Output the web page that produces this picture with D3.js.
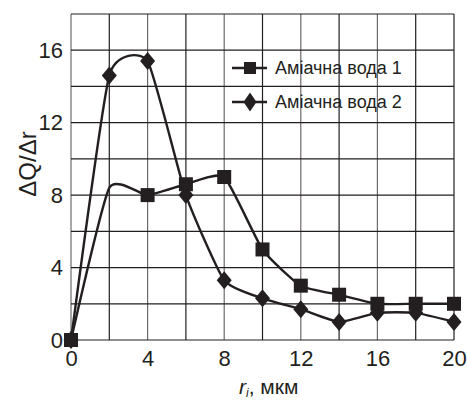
<!DOCTYPE html>
<html>
<head>
<meta charset="utf-8">
<script src="https://cdn.jsdelivr.net/npm/d3@7"></script>
<style>
  body { margin: 0; background: #fff; }
  text { font-family: "Liberation Sans", Arial, sans-serif; fill: #231f20; }
</style>
</head>
<body>
<svg width="467" height="400"></svg>
<script>
// chart values
const xTicks = [0, 4, 8, 12, 16, 20];
const yTicks = [0, 4, 8, 12, 16];
const seriesNames = ['Аміачна вода 1', 'Аміачна вода 2'];
// series 1: the curve passes x = 2 without a marker there
const water1X = [0, 2, 4, 6, 8, 10, 12, 14, 16, 18, 20];
const water1Y = [0, 8.4, 8, 8.6, 9, 5, 3, 2.5, 2, 2, 2];
const water1Marked = [1, 0, 1, 1, 1, 1, 1, 1, 1, 1, 1];
const water2X = [0, 2, 4, 6, 8, 10, 12, 14, 16, 18, 20];
const water2Y = [0, 14.6, 15.4, 8, 3.3, 2.3, 1.7, 1, 1.5, 1.5, 1];

const ink = '#231f20';
const svg = d3.select('svg');
const margin = { top: 14, right: 13, bottom: 60, left: 71 };
const width = +svg.attr('width') - margin.left - margin.right;
const height = +svg.attr('height') - margin.top - margin.bottom;

const g = svg.append('g')
    .attr('transform', 'translate(' + margin.left + ',' + margin.top + ')');

const xScale = d3.scaleLinear().domain([0, 20]).range([0, width]);
const yScale = d3.scaleLinear().domain([0, 18]).range([height, 0]);

// grid: every 2 units
d3.range(0, 21, 2).forEach(function(v) {
    g.append('line')
        .attr('x1', xScale(v)).attr('x2', xScale(v))
        .attr('y1', 0).attr('y2', height)
        .attr('stroke', v % 4 === 0 && v !== 20 ? '#6e6a6b' : ink)
        .attr('stroke-width', 1.2);
});
d3.range(0, 19, 2).forEach(function(v) {
    g.append('line')
        .attr('x1', 0).attr('x2', width)
        .attr('y1', yScale(v)).attr('y2', yScale(v))
        .attr('stroke', ink)
        .attr('stroke-width', 1.2);
});

// axes (labels only)
g.append('g')
    .attr('transform', 'translate(0,' + height + ')')
    .call(d3.axisBottom(xScale).tickValues(xTicks).tickSize(0).tickPadding(10))
    .call(function(a) { a.select('.domain').remove(); })
    .selectAll('text')
    .attr('dy', '0.71em')
    .style('font-size', '22px');

g.append('g')
    .call(d3.axisLeft(yScale).tickValues(yTicks).tickSize(0).tickPadding(8))
    .call(function(a) { a.select('.domain').remove(); })
    .selectAll('text')
    .style('font-size', '22px');

// axis titles
svg.append('text')
    .attr('transform', 'translate(36,164) rotate(-90)')
    .attr('text-anchor', 'middle')
    .style('font-size', '24px')
    .text('ΔQ/Δr');

const xTitle = svg.append('text')
    .attr('x', 239)
    .attr('y', 394)
    .style('font-size', '21px');
xTitle.append('tspan').style('font-style', 'italic').text('r');
xTitle.append('tspan').style('font-style', 'italic').style('font-size', '12px').attr('dy', 3).text('i');
xTitle.append('tspan').attr('dy', -3).text(', мкм');

// curves
const line = d3.line()
    .x(function(d) { return xScale(d[0]); })
    .y(function(d) { return yScale(d[1]); })
    .curve(d3.curveCardinal.tension(0.5));

const data1 = d3.zip(water1X, water1Y, water1Marked);
const data2 = d3.zip(water2X, water2Y);

[data1, data2].forEach(function(data) {
    g.append('path')
        .datum(data)
        .attr('fill', 'none')
        .attr('stroke', ink)
        .attr('stroke-width', 2.4)
        .attr('d', line);
});

// markers
function square(sel, s) {
    return sel.append('rect')
        .attr('x', -s / 2).attr('y', -s / 2)
        .attr('width', s).attr('height', s)
        .attr('fill', ink);
}
function diamond(sel, w, h) {
    return sel.append('path')
        .attr('d', 'M0,' + (-h / 2) + 'L' + (w / 2) + ',0L0,' + (h / 2) + 'L' + (-w / 2) + ',0Z')
        .attr('fill', ink);
}

g.selectAll('.m2')
    .data(data2)
    .enter().append('g')
    .attr('transform', function(d) { return 'translate(' + xScale(d[0]) + ',' + yScale(d[1]) + ')'; })
    .each(function() { diamond(d3.select(this), 15, 18); });

g.selectAll('.m1')
    .data(data1.filter(function(d) { return d[2]; }))
    .enter().append('g')
    .attr('transform', function(d) { return 'translate(' + xScale(d[0]) + ',' + yScale(d[1]) + ')'; })
    .each(function() { square(d3.select(this), 14); });

// legend
const legend = svg.append('g');
seriesNames.forEach(function(name, i) {
    const y = 68 + i * 34;
    legend.append('line')
        .attr('x1', 232).attr('x2', 267)
        .attr('y1', y).attr('y2', y)
        .attr('stroke', ink)
        .attr('stroke-width', 2.4);
    const m = legend.append('g').attr('transform', 'translate(250,' + y + ')');
    if (i === 0) square(m, 12);
    else diamond(m, 13, 19);
    legend.append('text')
        .attr('x', 275)
        .attr('y', y)
        .attr('dy', '0.36em')
        .style('font-size', '18px')
        .text(name);
});
</script>
</body>
</html>
